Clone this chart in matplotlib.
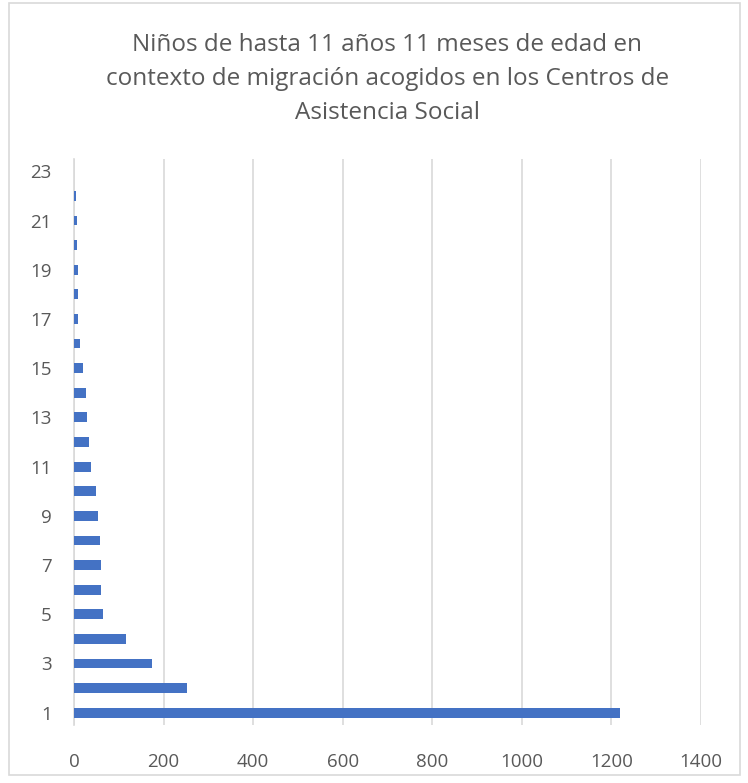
import matplotlib.pyplot as plt
from matplotlib.patches import Rectangle

# edad (categoria) y numero de ninos
categories = list(range(1, 24))
values = [1220, 253, 174, 115, 65, 60, 60, 57, 53, 50, 39, 34,
          29, 26, 19, 13, 10, 10, 8, 7, 7, 4, 0]
x_ticks = [0, 200, 400, 600, 800, 1000, 1200, 1400]
y_ticks = list(range(1, 24, 2))

title = ("Niños de hasta 11 años 11 meses de edad en\n"
         "contexto de migración acogidos en los Centros de\n"
         "Asistencia Social")

plt.rcParams["font.family"] = ["Open Sans", "DejaVu Sans"]
text_color = "#595959"

fig = plt.figure(figsize=(7.48, 7.83), dpi=100)
ax = fig.add_axes([74 / 748, 58 / 783, 627 / 748, 566 / 783])

ax.barh(categories, values, height=0.4, color="#4472C4", zorder=3)

ax.set_xlim(0, 1400)
ax.set_ylim(0.5, 23.5)
ax.set_xticks(x_ticks)
ax.set_yticks(y_ticks)
ax.tick_params(axis="both", length=0, labelsize=13.5, colors=text_color)
ax.tick_params(axis="x", pad=20)
ax.tick_params(axis="y", pad=16)
ax.grid(axis="x", color="#D9D9D9", linewidth=1.2, zorder=0)
for side in ["top", "right", "bottom"]:
    ax.spines[side].set_visible(False)
ax.spines["left"].set_color("#D9D9D9")
ax.spines["left"].set_linewidth(1.2)

fig.text(387.5 / 748, 1 - 79 / 783, title, ha="center", va="center",
         fontsize=17.5, color=text_color, linespacing=1.55)

fig.patches.append(Rectangle((9 / 748, 8 / 783), 731 / 748, 772 / 783,
                             transform=fig.transFigure, fill=False,
                             edgecolor="#D9D9D9", linewidth=1.2))

fig.savefig("out.png", dpi=100)
